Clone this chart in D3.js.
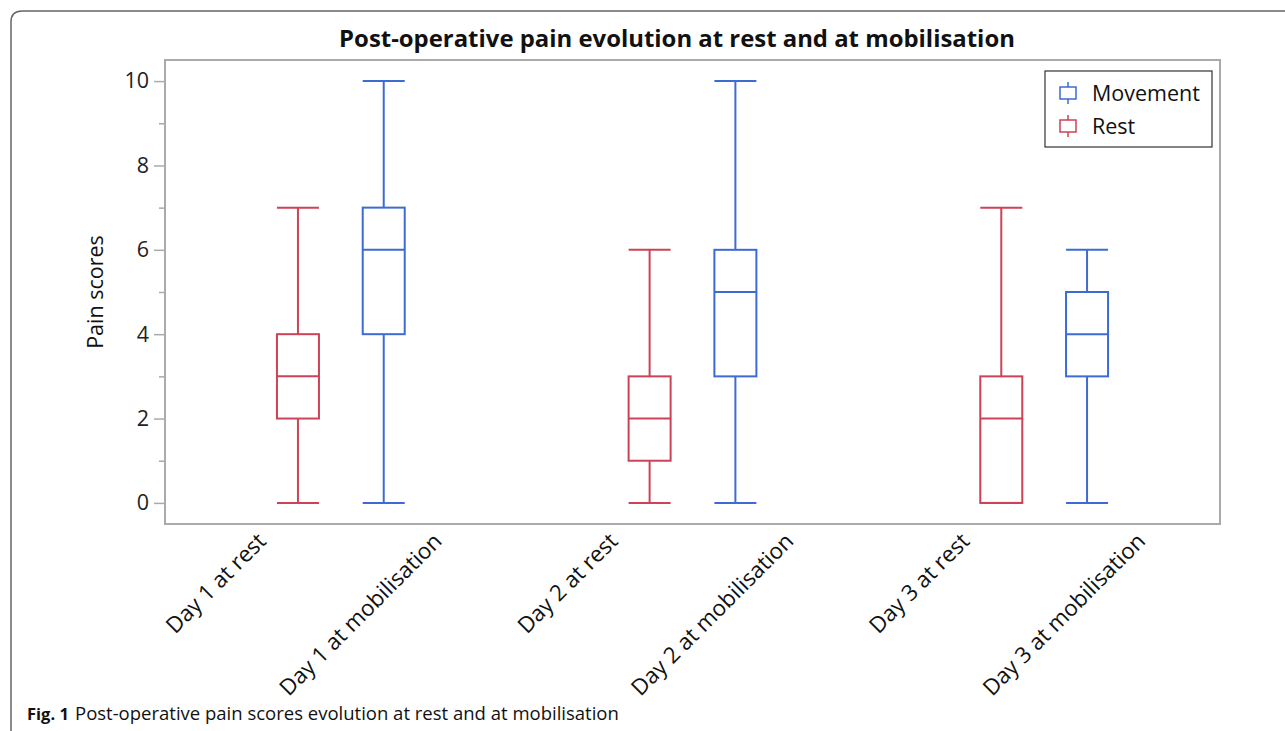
<!DOCTYPE html>
<html lang="en">
<head>
    <meta charset="UTF-8">
    <title>Post-operative pain evolution</title>
    <script src="https://d3js.org/d3.v7.js"></script>
    <style>
        body { margin: 0; background: #fff; }
        text { font-family: "Open Sans", "Noto Sans", sans-serif; }
    </style>
</head>
<body>
    <div class="canvas"></div>
    <script>
        // data
        let days = ["Day 1", "Day 2", "Day 3"];
        let groups = ["Rest", "Movement"];
        let labels = ["Day 1 at rest", "Day 1 at mobilisation", "Day 2 at rest",
            "Day 2 at mobilisation", "Day 3 at rest", "Day 3 at mobilisation"];
        // [min, q1, median, q3, max]
        let restStats = [[0, 2, 3, 4, 7], [0, 1, 2, 3, 6], [0, 0, 2, 3, 7]];
        let moveStats = [[0, 4, 6, 7, 10], [0, 3, 5, 6, 10], [0, 3, 4, 5, 6]];
        let majorTicks = [0, 2, 4, 6, 8, 10];
        let minorTicks = [1, 3, 5, 7, 9];

        let colors = { "Rest": "#cc4257", "Movement": "#3d6bd4" };

        let boxes = [];
        days.forEach((d, i) => {
            boxes.push({ day: d, group: "Rest", s: restStats[i] });
            boxes.push({ day: d, group: "Movement", s: moveStats[i] });
        });

        // canvas
        let W = 1285, H = 731;
        let plot = { left: 165, right: 1220, top: 60, bottom: 524 };
        let svg = d3.select(".canvas").append("svg")
            .attr("width", W).attr("height", H);

        // outer figure frame (open to the right and bottom)
        svg.append("path")
            .attr("d", "M11," + H + " L11,22 Q11,11 22,11 L" + W + ",11")
            .attr("fill", "none").attr("stroke", "#666").attr("stroke-width", 1.5);

        // scales
        let x_day = d3.scaleBand().domain(days).range([plot.left, plot.right]);
        let x_in = d3.scalePoint().domain(groups).range([0, x_day.bandwidth()]).padding(1.55);
        let x_lab = d3.scaleBand().domain(labels).range([plot.left, plot.right]);
        let y = d3.scaleLinear().domain([-0.5, 10.5]).range([plot.bottom, plot.top]);
        let boxW = 42;

        // title
        svg.append("text")
            .attr("x", 677).attr("y", 47)
            .attr("text-anchor", "middle")
            .attr("font-size", "23.9px").attr("font-weight", "bold")
            .attr("fill", "#111")
            .text("Post-operative pain evolution at rest and at mobilisation");

        // plot frame
        svg.append("rect")
            .attr("x", plot.left).attr("y", plot.top)
            .attr("width", plot.right - plot.left).attr("height", plot.bottom - plot.top)
            .attr("fill", "none").attr("stroke", "#aaa").attr("stroke-width", 2);

        // y axis
        let yax = svg.append("g")
            .attr("transform", "translate(" + (plot.left - 1) + ",0)")
            .call(d3.axisLeft(y).tickValues(majorTicks).tickSize(10).tickPadding(5));
        yax.select(".domain").remove();
        yax.selectAll("line").attr("stroke", "#aaa").attr("stroke-width", 1.5);
        yax.selectAll("text").attr("font-size", "21.5px").attr("fill", "#222")
            .style("font-family", "'Open Sans', sans-serif");
        let ymin = svg.append("g")
            .attr("transform", "translate(" + (plot.left - 1) + ",0)")
            .call(d3.axisLeft(y).tickValues(minorTicks).tickSize(5).tickFormat(""));
        ymin.select(".domain").remove();
        ymin.selectAll("line").attr("stroke", "#aaa").attr("stroke-width", 1.5);

        svg.append("text")
            .attr("transform", "translate(103," + ((plot.top + plot.bottom) / 2) + ") rotate(-90)")
            .attr("text-anchor", "middle")
            .attr("font-size", "21.5px").attr("fill", "#111")
            .text("Pain scores");

        // x labels
        svg.selectAll(".xlab").data(labels).enter().append("text")
            .attr("class", "xlab")
            .attr("transform", d => "translate(" + (x_lab(d) + x_lab.bandwidth() / 2 + 9) + ",537) rotate(-45)")
            .attr("text-anchor", "end")
            .attr("dy", "0.35em")
            .attr("font-size", "22.3px").attr("fill", "#111")
            .text(d => d);

        // box plots
        let bx = svg.append("g").attr("class", "boxes");
        let bg = bx.selectAll(".box").data(boxes).enter().append("g")
            .attr("class", "box")
            .attr("stroke", d => colors[d.group])
            .attr("stroke-width", 2)
            .attr("fill", "none");
        let cx = d => x_day(d.day) + x_in(d.group);
        // whiskers
        bg.append("line")
            .attr("x1", cx).attr("x2", cx)
            .attr("y1", d => y(d.s[0])).attr("y2", d => y(d.s[1]));
        bg.append("line")
            .attr("x1", cx).attr("x2", cx)
            .attr("y1", d => y(d.s[3])).attr("y2", d => y(d.s[4]));
        // caps
        bg.append("line")
            .attr("x1", d => cx(d) - boxW / 2).attr("x2", d => cx(d) + boxW / 2)
            .attr("y1", d => y(d.s[0])).attr("y2", d => y(d.s[0]));
        bg.append("line")
            .attr("x1", d => cx(d) - boxW / 2).attr("x2", d => cx(d) + boxW / 2)
            .attr("y1", d => y(d.s[4])).attr("y2", d => y(d.s[4]));
        // box
        bg.append("rect")
            .attr("x", d => cx(d) - boxW / 2)
            .attr("y", d => y(d.s[3]))
            .attr("width", boxW)
            .attr("height", d => y(d.s[1]) - y(d.s[3]));
        // median
        bg.append("line")
            .attr("x1", d => cx(d) - boxW / 2).attr("x2", d => cx(d) + boxW / 2)
            .attr("y1", d => y(d.s[2])).attr("y2", d => y(d.s[2]));

        // legend
        let lg = svg.append("g").attr("transform", "translate(1045,71)");
        lg.append("rect").attr("width", 167).attr("height", 76)
            .attr("fill", "#fff").attr("stroke", "#333").attr("stroke-width", 1.2);
        let items = lg.selectAll(".item").data(["Movement", "Rest"]).enter().append("g")
            .attr("class", "item")
            .attr("transform", (d, i) => "translate(0," + (22 + i * 33) + ")");
        items.append("line").attr("x1", 23).attr("x2", 23).attr("y1", -11).attr("y2", 11)
            .attr("stroke", d => colors[d]).attr("stroke-width", 1.5);
        items.append("rect").attr("x", 15).attr("y", -6).attr("width", 16).attr("height", 12)
            .attr("fill", "#fff").attr("stroke", d => colors[d]).attr("stroke-width", 1.5);
        items.append("text").attr("x", 47).attr("dy", "0.35em")
            .attr("font-size", "21.5px").attr("fill", "#111")
            .text(d => d);

        // caption
        let cap = svg.append("text").attr("x", 27).attr("y", 720)
            .attr("font-size", "18.5px").attr("fill", "#111");
        cap.append("tspan").attr("font-weight", "bold").attr("font-size", "16.5px").text("Fig. 1");
        cap.append("tspan").attr("x", 75).text("Post-operative pain scores evolution at rest and at mobilisation");
    </script>
</body>
</html>
